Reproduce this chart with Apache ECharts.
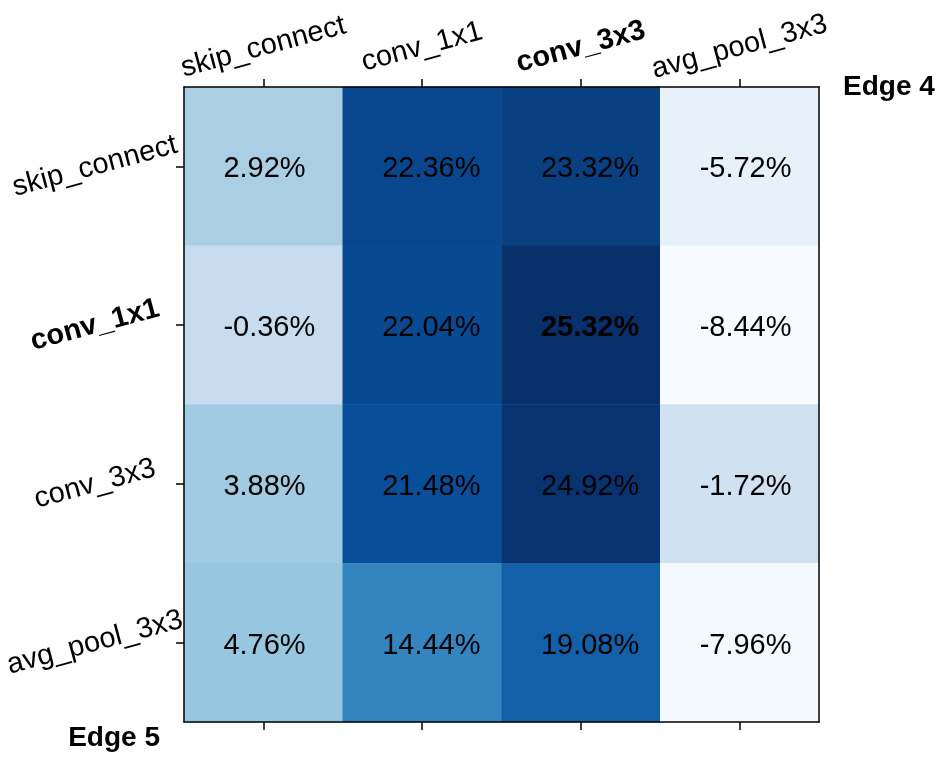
<!DOCTYPE html>
<html>
<head>
<meta charset="utf-8">
<script src="https://cdn.jsdelivr.net/npm/echarts@6/dist/echarts.min.js"></script>
<style>
  html, body { margin: 0; padding: 0; background: #fff; }
  #chart { width: 952px; height: 776px; }
</style>
</head>
<body>
<div id="chart"></div>
<script>
// edge 4 ops (columns) and edge 5 ops (rows)
const colOps = ['skip_connect', 'conv_1x1', 'conv_3x3', 'avg_pool_3x3'];
const rowOps = ['skip_connect', 'conv_1x1', 'conv_3x3', 'avg_pool_3x3'];
const boldCol = 'conv_3x3';
const boldRow = 'conv_1x1';

// one array per row, values in %
const skipConnectRow = [2.92, 22.36, 23.32, -5.72];
const conv1x1Row = [-0.36, 22.04, 25.32, -8.44];
const conv3x3Row = [3.88, 21.48, 24.92, -1.72];
const avgPoolRow = [4.76, 14.44, 19.08, -7.96];
const rows = [skipConnectRow, conv1x1Row, conv3x3Row, avgPoolRow];

// matplotlib Blues
const blues = ['#f7fbff', '#deebf7', '#c6dbef', '#9ecae1', '#6baed6',
  '#4292c6', '#2171b5', '#08519c', '#08306b'];

const FONT = 'Liberation Sans, Arial, Helvetica, sans-serif';

const data = [];
rows.forEach((vals, r) => {
  vals.forEach((v, c) => {
    const item = { value: [c, r, v] };
    if (colOps[c] === boldCol && rowOps[r] === boldRow) {
      item.label = { fontWeight: 'bold' };
    }
    data.push(item);
  });
});
const allVals = rows.flat();

const chart = echarts.init(document.getElementById('chart'));

const tickLabel = {
  fontSize: 29,
  color: '#000',
  fontFamily: FONT,
  align: 'center',
  verticalAlign: 'middle',
};

// per-item textStyle does not inherit align, so pass it in full
const catItems = (list, boldName) =>
  list.map((name) =>
    name === boldName
      ? { value: name, textStyle: Object.assign({}, tickLabel, { fontWeight: 'bold' }) }
      : name
  );

const blackLine = { color: '#000', width: 1.5 };
const ticks = { show: true, alignWithLabel: true, length: 8, lineStyle: blackLine };

const option = {
  animation: false,
  backgroundColor: '#fff',
  textStyle: { fontFamily: FONT },
  grid: {
    left: 184,
    top: 87,
    width: 635,
    height: 635,
    containLabel: false,
    outerBoundsMode: 'none',
  },
  visualMap: {
    show: false,
    dimension: 2,
    min: Math.min(...allVals),
    max: Math.max(...allVals),
    inRange: { color: blues },
  },
  xAxis: [
    {
      type: 'category',
      position: 'top',
      z: 10,
      data: catItems(colOps, boldCol),
      name: 'Edge 4',
      nameLocation: 'end',
      nameGap: 24,
      nameMoveOverlap: false,
      nameTextStyle: {
        fontFamily: FONT,
        fontSize: 28,
        fontWeight: 'bold',
        color: '#000',
        align: 'left',
        verticalAlign: 'middle',
      },
      axisLine: { show: true, lineStyle: blackLine },
      axisTick: ticks,
      axisLabel: Object.assign({ interval: 0, rotate: -15, margin: 40 }, tickLabel),
      splitLine: { show: false },
    },
    {
      type: 'category',
      position: 'bottom',
      z: 10,
      data: colOps,
      axisLine: { show: true, lineStyle: blackLine },
      axisTick: ticks,
      axisLabel: { show: false },
      splitLine: { show: false },
    },
  ],
  yAxis: [
    {
      type: 'category',
      inverse: true,
      position: 'left',
      z: 10,
      data: catItems(rowOps, boldRow),
      name: 'Edge 5',
      nameLocation: 'end',
      nameGap: 16,
      nameMoveOverlap: false,
      nameTextStyle: {
        fontFamily: FONT,
        fontSize: 28,
        fontWeight: 'bold',
        color: '#000',
        align: 'right',
        verticalAlign: 'middle',
        padding: [0, 24, 0, 0],
      },
      axisLine: { show: true, lineStyle: blackLine },
      axisTick: ticks,
      axisLabel: Object.assign({ interval: 0, rotate: 15, margin: 89 }, tickLabel),
      splitLine: { show: false },
    },
    {
      type: 'category',
      inverse: true,
      position: 'right',
      z: 10,
      data: rowOps,
      axisLine: { show: true, lineStyle: blackLine },
      axisTick: { show: false },
      axisLabel: { show: false },
      splitLine: { show: false },
    },
  ],
  series: [
    {
      type: 'heatmap',
      xAxisIndex: 0,
      yAxisIndex: 0,
      data: data,
      itemStyle: { borderWidth: 0 },
      emphasis: { disabled: true },
      label: {
        show: true,
        formatter: (p) => p.value[2].toFixed(2) + '%',
        fontSize: 29,
        fontFamily: FONT,
        color: '#000',
        align: 'left',
        offset: [-40, 3],
      },
    },
  ],
};

chart.setOption(option);
</script>
</body>
</html>
